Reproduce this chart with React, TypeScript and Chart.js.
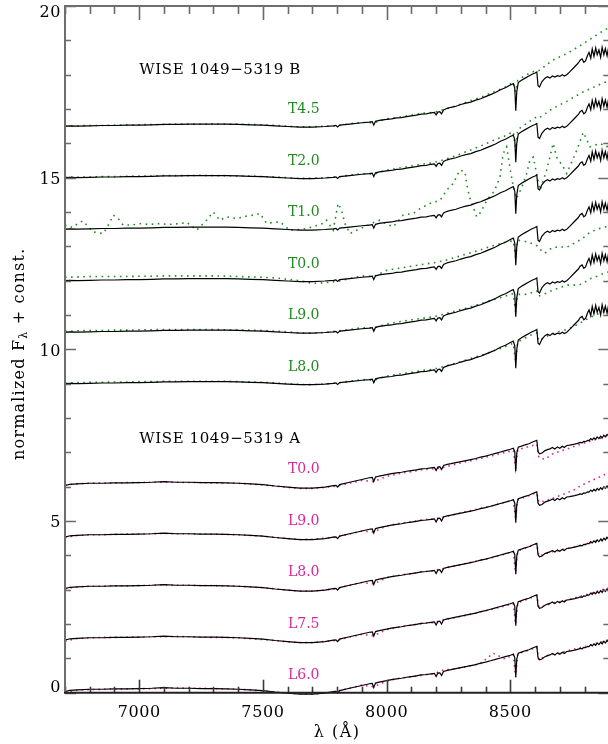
import React, { useEffect, useRef } from 'react';
import { Chart, registerables } from 'chart.js';

Chart.register(...registerables);

// ---------- DATA ----------
// wavelength grid (Angstrom) for the two object spectra
const WL_OBJ = [
  6700, 6720, 6750, 6800, 6850, 6900, 6950, 7000, 7050, 7100,
  7150, 7200, 7250, 7300, 7350, 7400, 7450, 7500, 7550, 7600,
  7650, 7700, 7750, 7785, 7795, 7802, 7810, 7850, 7900, 7930,
  7942, 7948, 7955, 7970, 8000, 8020, 8040, 8060, 8080, 8100,
  8120, 8140, 8160, 8180, 8193, 8200, 8207, 8215, 8222, 8230,
  8245, 8260, 8280, 8300, 8320, 8340, 8360, 8380, 8400, 8420,
  8440, 8460, 8480, 8500, 8512, 8518, 8522, 8526, 8532, 8545,
  8560, 8575, 8590, 8600, 8607, 8612, 8618, 8628, 8640, 8650,
  8660, 8670, 8680, 8690, 8700, 8710, 8718, 8728, 8740, 8760,
  8775, 8782, 8790, 8797, 8804, 8812, 8818, 8825, 8831, 8838,
  8845, 8851, 8858, 8865, 8871, 8878, 8884, 8891, 8897, 8904,
];

// WISE 1049-5319 A (normalized flux)
const FLUX_A = [
  0.03, 0.07, 0.08, 0.10, 0.10, 0.11, 0.11, 0.12, 0.13, 0.15,
  0.13, 0.13, 0.12, 0.12, 0.11, 0.10, 0.08, 0.06, 0.02, -0.01,
  -0.04, -0.04, -0.01, 0.03, 0.04, -0.01, 0.06, 0.13, 0.21, 0.26,
  0.27, 0.15, 0.28, 0.31, 0.35, 0.38, 0.40, 0.42, 0.45, 0.47,
  0.49, 0.52, 0.53, 0.55, 0.56, 0.47, 0.57, 0.58, 0.50, 0.62,
  0.65, 0.67, 0.70, 0.73, 0.76, 0.79, 0.82, 0.86, 0.89, 0.93,
  0.97, 1.01, 1.05, 1.09, 1.12, 1.02, 0.45, 0.98, 1.15, 1.18,
  1.22, 1.25, 1.30, 1.33, 1.35, 1.02, 0.96, 0.98, 1.05, 1.08,
  1.10, 1.14, 1.10, 1.16, 1.12, 1.18, 1.14, 1.20, 1.21, 1.24,
  1.27, 1.29, 1.28, 1.32, 1.31, 1.35, 1.34, 1.40, 1.36, 1.42,
  1.38, 1.45, 1.40, 1.47, 1.42, 1.50, 1.45, 1.52, 1.48, 1.54,
];

// WISE 1049-5319 B (normalized flux)
const FLUX_B = [
  0.00, 0.01, 0.00, 0.01, 0.02, 0.02, 0.03, 0.03, 0.04, 0.05,
  0.05, 0.06, 0.06, 0.06, 0.06, 0.05, 0.04, 0.03, 0.01, -0.01,
  -0.03, -0.03, -0.01, 0.01, 0.02, -0.02, 0.03, 0.06, 0.10, 0.12,
  0.13, 0.03, 0.14, 0.17, 0.20, 0.21, 0.24, 0.25, 0.28, 0.30,
  0.32, 0.35, 0.36, 0.39, 0.40, 0.33, 0.41, 0.42, 0.36, 0.47,
  0.52, 0.55, 0.58, 0.63, 0.67, 0.70, 0.76, 0.80, 0.86, 0.92,
  0.98, 1.06, 1.12, 1.20, 1.24, 1.10, 0.45, 1.00, 1.27, 1.34,
  1.40, 1.46, 1.52, 1.55, 1.58, 1.18, 1.14, 1.30, 1.40, 1.44,
  1.40, 1.46, 1.43, 1.47, 1.45, 1.50, 1.46, 1.50, 1.58, 1.73,
  1.84, 1.92, 1.96, 1.86, 1.90, 2.06, 2.15, 1.98, 2.25, 2.03,
  2.28, 2.08, 2.22, 2.00, 2.30, 2.08, 2.26, 2.05, 2.30, 2.12,
];

// wavelength grid for the spectral standards
const WL_STD = [
  6700, 6750, 6800, 6850, 6900, 6950, 7000, 7050, 7100, 7150,
  7200, 7250, 7300, 7350, 7400, 7450, 7500, 7550, 7600, 7650,
  7700, 7750, 7800, 7850, 7900, 7948, 8000, 8050, 8100, 8150,
  8190, 8230, 8280, 8330, 8380, 8430, 8480, 8512, 8521, 8530,
  8560, 8590, 8607, 8615, 8640, 8670, 8700, 8730, 8760, 8790,
  8820, 8850, 8880, 8900,
];

// standards compared with component A (magenta)
const STD_A_L60 = [
  0.00, 0.07, 0.09, 0.10, 0.11, 0.11, 0.12, 0.12, 0.13, 0.14,
  0.13, 0.13, 0.12, 0.11, 0.10, 0.08, 0.05, 0.02, -0.01, -0.03,
  -0.04, -0.01, 0.04, 0.13, 0.22, 0.17, 0.34, 0.42, 0.46, 0.52,
  0.55, 0.66, 0.70, 0.77, 0.85, 1.15, 0.98, 1.12, 0.45, 1.14,
  1.20, 1.28, 1.33, 0.95, 1.06, 1.12, 1.16, 1.22, 1.27, 1.32,
  1.38, 1.44, 1.50, 1.55,
];
const STD_A_L75 = [
  0.00, 0.08, 0.10, 0.11, 0.11, 0.12, 0.12, 0.13, 0.13, 0.14,
  0.13, 0.12, 0.11, 0.11, 0.10, 0.07, 0.05, 0.02, -0.02, -0.04,
  -0.04, -0.01, 0.03, 0.12, 0.20, 0.16, 0.34, 0.41, 0.47, 0.52,
  0.54, 0.62, 0.69, 0.77, 0.85, 0.94, 1.03, 1.10, 0.50, 1.12,
  1.20, 1.28, 1.33, 1.00, 1.03, 1.10, 1.15, 1.20, 1.26, 1.32,
  1.38, 1.45, 1.52, 1.56,
];
const STD_A_L80 = [
  0.03, 0.08, 0.10, 0.10, 0.11, 0.11, 0.12, 0.13, 0.14, 0.13,
  0.13, 0.12, 0.12, 0.11, 0.10, 0.08, 0.06, 0.02, -0.01, -0.04,
  -0.04, -0.01, 0.04, 0.13, 0.21, 0.17, 0.35, 0.42, 0.47, 0.53,
  0.55, 0.62, 0.70, 0.78, 0.86, 0.94, 1.04, 1.11, 0.50, 1.13,
  1.21, 1.29, 1.34, 0.98, 1.04, 1.11, 1.14, 1.20, 1.25, 1.30,
  1.36, 1.43, 1.50, 1.55,
];
const STD_A_L90 = [
  0.02, 0.08, 0.10, 0.10, 0.11, 0.12, 0.12, 0.13, 0.14, 0.13,
  0.13, 0.12, 0.12, 0.11, 0.10, 0.08, 0.06, 0.02, -0.01, -0.04,
  -0.03, 0.00, 0.04, 0.12, 0.21, 0.18, 0.36, 0.43, 0.48, 0.54,
  0.56, 0.62, 0.70, 0.79, 0.87, 0.95, 1.05, 1.12, 0.55, 1.12,
  1.20, 1.28, 1.32, 1.05, 1.08, 1.16, 1.24, 1.32, 1.42, 1.55,
  1.65, 1.75, 1.85, 1.90,
];
const STD_A_T00 = [
  0.05, 0.09, 0.10, 0.11, 0.10, 0.12, 0.12, 0.13, 0.13, 0.13,
  0.12, 0.12, 0.11, 0.11, 0.10, 0.08, 0.05, 0.02, -0.02, -0.05,
  -0.05, -0.02, 0.02, 0.10, 0.18, 0.15, 0.30, 0.38, 0.44, 0.50,
  0.52, 0.56, 0.66, 0.74, 0.82, 0.91, 1.00, 1.06, 0.55, 1.08,
  1.14, 1.20, 1.24, 0.85, 0.80, 0.95, 1.03, 1.10, 1.18, 1.25,
  1.32, 1.38, 1.45, 1.50,
];

// standards compared with component B (green)
const STD_B_L80 = [
  0.02, 0.03, 0.04, 0.04, 0.05, 0.05, 0.06, 0.06, 0.07, 0.07,
  0.07, 0.07, 0.07, 0.07, 0.06, 0.05, 0.04, 0.02, 0.00, -0.02,
  -0.03, -0.01, 0.02, 0.07, 0.12, 0.10, 0.22, 0.28, 0.33, 0.39,
  0.42, 0.50, 0.60, 0.71, 0.82, 0.95, 1.08, 1.18, 0.65, 1.22,
  1.33, 1.44, 1.48, 1.25, 1.36, 1.45, 1.52, 1.58, 1.68, 1.80,
  1.92, 2.02, 2.10, 2.14,
];
const STD_B_L90 = [
  0.03, 0.04, 0.05, 0.05, 0.06, 0.06, 0.07, 0.07, 0.08, 0.08,
  0.08, 0.08, 0.08, 0.07, 0.07, 0.06, 0.05, 0.03, 0.01, -0.02,
  -0.03, -0.01, 0.03, 0.08, 0.13, 0.12, 0.24, 0.30, 0.36, 0.41,
  0.45, 0.52, 0.62, 0.72, 0.83, 0.94, 1.05, 1.12, 0.62, 1.10,
  1.10, 1.16, 1.20, 1.05, 1.12, 1.22, 1.30, 1.37, 1.37, 1.40,
  1.55, 1.63, 1.72, 1.76,
];
const STD_B_T00 = [
  0.10, 0.11, 0.12, 0.12, 0.12, 0.12, 0.13, 0.13, 0.14, 0.14,
  0.14, 0.14, 0.14, 0.13, 0.12, 0.11, 0.10, 0.08, 0.04, 0.00,
  -0.08, -0.06, -0.02, 0.06, 0.14, 0.12, 0.30, 0.36, 0.42, 0.48,
  0.52, 0.58, 0.68, 0.79, 0.90, 1.02, 1.12, 1.16, 0.70, 1.18,
  1.14, 1.08, 1.02, 0.94, 0.80, 0.97, 0.98, 0.98, 1.10, 1.22,
  1.40, 1.50, 1.56, 1.58,
];
const STD_B_T20 = [
  0.01, 0.02, 0.02, 0.03, 0.03, 0.04, 0.05, 0.05, 0.06, 0.06,
  0.06, 0.07, 0.06, 0.06, 0.05, 0.05, 0.03, 0.02, 0.00, -0.02,
  -0.02, 0.00, 0.02, 0.07, 0.12, 0.10, 0.22, 0.28, 0.34, 0.40,
  0.44, 0.52, 0.64, 0.78, 0.92, 1.08, 1.22, 1.34, 0.85, 1.40,
  1.55, 1.70, 1.77, 1.74, 1.86, 2.01, 2.12, 2.23, 2.36, 2.48,
  2.58, 2.68, 2.77, 2.81,
];
const STD_B_T45 = [
  0.00, 0.01, 0.02, 0.02, 0.03, 0.03, 0.04, 0.05, 0.05, 0.06,
  0.06, 0.06, 0.07, 0.06, 0.06, 0.05, 0.04, 0.02, 0.00, -0.02,
  -0.02, 0.00, 0.01, 0.07, 0.11, 0.10, 0.21, 0.26, 0.32, 0.38,
  0.40, 0.48, 0.59, 0.72, 0.84, 0.99, 1.14, 1.28, 1.00, 1.33,
  1.48, 1.58, 1.63, 1.62, 1.75, 1.92, 2.02, 2.12, 2.25, 2.38,
  2.52, 2.66, 2.80, 2.87,
];

// the noisy T1.0 standard has its own sampling
const WL_T10 = [
  6700, 6707, 6730, 6760, 6774, 6790, 6814, 6854, 6870, 6882,
  6895, 6915, 6935, 6970, 7003, 7040, 7084, 7120, 7164, 7192,
  7232, 7272, 7299, 7326, 7353, 7394, 7434, 7461, 7488, 7515,
  7545, 7569, 7609, 7663, 7703, 7744, 7757, 7784, 7804, 7818,
  7831, 7852, 7879, 7920, 7950, 7973, 8000, 8027, 8067, 8108,
  8135, 8175, 8216, 8243, 8269, 8296, 8317, 8323, 8337, 8364,
  8377, 8410, 8435, 8458, 8471, 8485, 8498, 8512, 8525, 8545,
  8566, 8579, 8593, 8606, 8620, 8647, 8673, 8687, 8714, 8728,
  8768, 8795, 8822, 8862, 8889, 8900,
];
const STD_B_T10 = [
  0.10, 0.12, 0.05, 0.21, 0.24, 0.10, -0.08, -0.13, 0.05, 0.21,
  0.41, 0.31, 0.12, 0.12, 0.16, 0.14, 0.16, 0.14, 0.16, 0.20,
  -0.03, 0.26, 0.50, 0.26, 0.36, 0.31, 0.38, 0.41, 0.46, 0.17,
  0.20, 0.21, -0.03, 0.00, 0.07, 0.17, 0.26, -0.03, 0.75, 0.55,
  0.17, -0.13, -0.03, 0.10, 0.20, 0.26, 0.15, 0.07, 0.41, 0.46,
  0.60, 0.75, 0.84, 1.14, 1.33, 1.72, 1.67, 1.33, 0.89, 0.36,
  0.46, 0.90, 1.10, 1.52, 2.20, 2.40, 1.81, 1.23, 0.89, 1.20,
  1.62, 2.01, 2.10, 1.62, 1.14, 1.72, 2.50, 2.10, 1.81, 1.62,
  2.29, 2.82, 2.40, 2.50, 2.40, 2.45,
];

const OFFSETS_A = [0, 1.5, 3, 4.5, 6];
const TYPES_A = ['L6.0', 'L7.5', 'L8.0', 'L9.0', 'T0.0'];
const OFFSETS_B = [9, 10.5, 12, 13.5, 15, 16.5];
const TYPES_B = ['L8.0', 'L9.0', 'T0.0', 'T1.0', 'T2.0', 'T4.5'];

const X_TICKS = [7000, 7500, 8000, 8500];
const Y_TICKS = [0, 5, 10, 15, 20];
const TITLE_A = 'WISE 1049\u22125319 A';
const TITLE_B = 'WISE 1049\u22125319 B';
const LABEL_WL = 7665;
const TITLE_WL = 7000;
const TITLE_A_Y = 7.4;
const TITLE_B_Y = 18.13;

// ---------- STYLE ----------
const GREEN = '#1f8a1f';
const MAGENTA = '#d8289a';
const SERIF = '"DejaVu Serif", "Liberation Serif", serif';

export default function App() {
  const ref = useRef<HTMLCanvasElement | null>(null);

  useEffect(() => {
    if (!ref.current) return;

    const datasets: any[] = [];
    const mk = (wl: number[], fl: number[], off: number) =>
      wl.map((w, i) => ({ x: w, y: fl[i] + off }));
    const clip = { left: 0, top: 0, right: 2, bottom: 5 };

    // object spectra (black, on top)
    OFFSETS_A.forEach((off) => {
      datasets.push({
        data: mk(WL_OBJ, FLUX_A, off),
        borderColor: '#000',
        borderWidth: 1.2,
        pointRadius: 0,
        order: 0,
        clip,
      });
    });
    OFFSETS_B.forEach((off) => {
      datasets.push({
        data: mk(WL_OBJ, FLUX_B, off),
        borderColor: '#000',
        borderWidth: 1.2,
        pointRadius: 0,
        order: 0,
        clip,
      });
    });

    const stdA = [STD_A_L60, STD_A_L75, STD_A_L80, STD_A_L90, STD_A_T00];
    stdA.forEach((fl, k) => {
      datasets.push({
        data: mk(WL_STD, fl, OFFSETS_A[k]),
        borderColor: MAGENTA,
        borderWidth: 1.6,
        borderDash: [1.6, 4],
        pointRadius: 0,
        order: 1,
        clip,
      });
    });
    const stdB: (number[] | null)[] = [STD_B_L80, STD_B_L90, STD_B_T00, null, STD_B_T20, STD_B_T45];
    stdB.forEach((fl, k) => {
      const data = fl ? mk(WL_STD, fl, OFFSETS_B[k]) : mk(WL_T10, STD_B_T10, OFFSETS_B[k]);
      datasets.push({
        data,
        borderColor: GREEN,
        borderWidth: 1.6,
        borderDash: [1.6, 4.5],
        pointRadius: 0,
        order: 1,
        clip,
      });
    });

    const framePlugin = {
      id: 'frame',
      afterDraw(chart: any) {
        const ctx = chart.ctx as CanvasRenderingContext2D;
        const xs = chart.scales.x;
        const ys = chart.scales.y;
        const { left, right, top, bottom } = chart.chartArea;
        ctx.save();

        // ticks
        ctx.lineWidth = 1.6;
        for (let v = xs.min; v <= xs.max; v += 100) {
          const px = Math.round(xs.getPixelForValue(v)) + 0.5;
          const major = X_TICKS.includes(v);
          const lenB = major ? 13 : 6;
          const lenT = major ? 14 : 8;
          ctx.strokeStyle = '#3a3a3a';
          ctx.beginPath();
          ctx.moveTo(px, bottom);
          ctx.lineTo(px, bottom - lenB);
          ctx.stroke();
          ctx.strokeStyle = '#6a6a6a';
          ctx.beginPath();
          ctx.moveTo(px, top);
          ctx.lineTo(px, top + lenT);
          ctx.stroke();
        }
        for (let v = ys.min; v <= ys.max; v += 1) {
          const py = Math.round(ys.getPixelForValue(v)) + 0.5;
          const major = Y_TICKS.includes(v);
          const len = major ? 11 : 6;
          ctx.strokeStyle = '#6a6a6a';
          ctx.beginPath();
          ctx.moveTo(left, py);
          ctx.lineTo(left + len, py);
          ctx.moveTo(right, py);
          ctx.lineTo(right - len, py);
          ctx.stroke();
        }

        // frame
        ctx.lineWidth = 2;
        ctx.strokeStyle = '#6e6e6e';
        ctx.beginPath();
        ctx.moveTo(left, bottom);
        ctx.lineTo(left, top);
        ctx.lineTo(right, top);
        ctx.lineTo(right, bottom);
        ctx.stroke();
        ctx.strokeStyle = '#222';
        ctx.beginPath();
        ctx.moveTo(left - 1, bottom);
        ctx.lineTo(right, bottom);
        ctx.stroke();

        // tick labels
        ctx.fillStyle = '#000';
        ctx.font = `16px ${SERIF}`;
        (ctx as any).letterSpacing = '0.6px';
        ctx.textAlign = 'center';
        ctx.textBaseline = 'middle';
        X_TICKS.forEach((v) => {
          ctx.fillText(String(v), xs.getPixelForValue(v), 713);
        });
        ctx.textAlign = 'right';
        Y_TICKS.forEach((v) => {
          let py = ys.getPixelForValue(v) + 2;
          py = Math.max(13, Math.min(688, py));
          ctx.fillText(String(v), left - 4, py);
        });

        // x title
        ctx.textAlign = 'center';
        (ctx as any).letterSpacing = '1.5px';
        ctx.fillText('\u03bb (\u00c5)', (left + right) / 2, 733);

        // y title (rotated)
        ctx.save();
        ctx.translate(20, 460);
        ctx.rotate(-Math.PI / 2);
        ctx.textAlign = 'left';
        ctx.textBaseline = 'middle';
        (ctx as any).letterSpacing = '1.2px';
        ctx.font = `16px ${SERIF}`;
        let cx = 0;
        const p1 = 'normalized F';
        ctx.fillText(p1, cx, 0);
        cx += ctx.measureText(p1).width;
        ctx.font = `11px ${SERIF}`;
        ctx.fillText('\u03bb', cx, 4);
        cx += ctx.measureText('\u03bb').width;
        ctx.font = `16px ${SERIF}`;
        ctx.fillText(' + const.', cx, 0);
        ctx.restore();

        // object titles
        ctx.textAlign = 'left';
        ctx.textBaseline = 'middle';
        ctx.font = `15px ${SERIF}`;
        (ctx as any).letterSpacing = '0.6px';
        ctx.fillStyle = '#000';
        ctx.fillText(TITLE_B, xs.getPixelForValue(TITLE_WL), ys.getPixelForValue(TITLE_B_Y));
        ctx.fillText(TITLE_A, xs.getPixelForValue(TITLE_WL), ys.getPixelForValue(TITLE_A_Y));

        // spectral-type labels
        ctx.textAlign = 'center';
        ctx.font = `14px ${SERIF}`;
        (ctx as any).letterSpacing = '0px';
        ctx.fillStyle = GREEN;
        TYPES_B.forEach((t, k) => {
          ctx.fillText(t, xs.getPixelForValue(LABEL_WL), ys.getPixelForValue(OFFSETS_B[k] + 0.48));
        });
        ctx.fillStyle = MAGENTA;
        TYPES_A.forEach((t, k) => {
          ctx.fillText(t, xs.getPixelForValue(LABEL_WL), ys.getPixelForValue(OFFSETS_A[k] + 0.5));
        });

        ctx.restore();
      },
    };

    const chart = new Chart(ref.current, {
      type: 'line',
      data: { datasets },
      options: {
        animation: false,
        responsive: false,
        maintainAspectRatio: false,
        devicePixelRatio: 1,
        layout: { padding: { left: 65, top: 6, right: 2.7, bottom: 51.3 } },
        plugins: { legend: { display: false }, tooltip: { enabled: false } },
        elements: { line: { tension: 0 } },
        scales: {
          x: { type: 'linear', min: 6700, max: 8900, display: false },
          y: { type: 'linear', min: 0, max: 20, display: false },
        },
      },
      plugins: [framePlugin],
    });
    return () => chart.destroy();
  }, []);

  return (
    <div style={{ position: 'fixed', left: 0, top: 0, width: 612, height: 744, background: '#fff' }}>
      <canvas ref={ref} width={612} height={744} style={{ display: 'block' }} />
    </div>
  );
}
